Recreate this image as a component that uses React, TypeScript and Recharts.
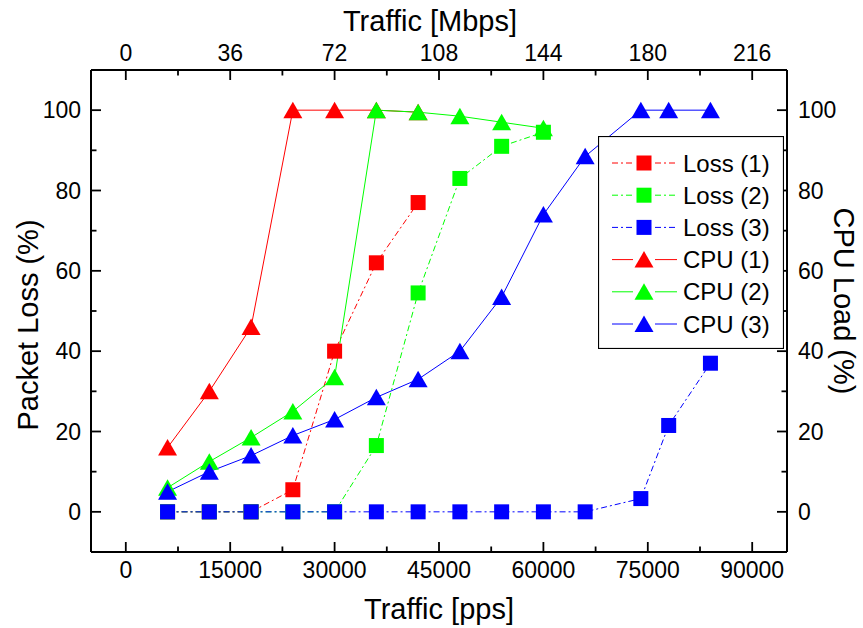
import React from 'react';
import { LineChart, Line, XAxis, YAxis, Legend } from 'recharts';

// traffic in packets per second; the top axis shows the same scale in Mbps
const trafficPps = [6000, 12000, 18000, 24000, 30000, 36000, 42000, 48000, 54000, 60000, 66000, 74000, 78000, 84000];

// packet loss (%) per run
const loss1 = [0, 0, 0, 5.5, 40, 62, 77];
const loss2 = [0, 0, 0, 0, 0, 16.5, 54.5, 83, 91, 94.5];
const loss3 = [0, 0, 0, 0, 0, 0, 0, 0, 0, 0, 0, 3.3, 21.5, 37];

// cpu load (%) per run
const cpu1 = [16, 30, 46, 100, 100, 100, 99.5];
const cpu2 = [6, 12.5, 18.5, 25, 33.5, 100, 99.5, 98.5, 97, 95.5];
const cpu3 = [5, 10, 14, 19, 23, 28.5, 33, 40, 53.5, 74, 88.5, 100, 100, 100];

const ppsTicks = [0, 7500, 15000, 22500, 30000, 37500, 45000, 52500, 60000, 67500, 75000, 82500, 90000];
const percentTicks = [0, 10, 20, 30, 40, 50, 60, 70, 80, 90, 100];

const MBPS_PER_PPS = 36 / 15000;
const FONT = '"Liberation Sans", Arial, Helvetica, sans-serif';
const TICK_FONT = 23;
const TITLE_FONT = 29;
const DASH_DOT = '6 3 2 3';

type Series = {
  name: string;
  values: number[];
  color: string;
  kind: 'loss' | 'cpu';
};

const series: Series[] = [
  { name: 'Loss (1)', values: loss1, color: '#ff0000', kind: 'loss' },
  { name: 'Loss (2)', values: loss2, color: '#00ff00', kind: 'loss' },
  { name: 'Loss (3)', values: loss3, color: '#0000ff', kind: 'loss' },
  { name: 'CPU (1)', values: cpu1, color: '#ff0000', kind: 'cpu' },
  { name: 'CPU (2)', values: cpu2, color: '#00ff00', kind: 'cpu' },
  { name: 'CPU (3)', values: cpu3, color: '#0000ff', kind: 'cpu' },
];

const toPoints = (values: number[]) => values.map((y, i) => ({ x: trafficPps[i], y }));

const Marker = ({ cx, cy, color, kind }: { cx: number; cy: number; color: string; kind: string }) =>
  kind === 'loss' ? (
    <rect x={cx - 7.5} y={cy - 7.5} width={15} height={15} fill={color} />
  ) : (
    <polygon points={`${cx},${cy - 8.5} ${cx + 9.5},${cy + 8} ${cx - 9.5},${cy + 8}`} fill={color} />
  );

const xTick = (side: 'top' | 'bottom') => (props: any) => {
  const { x, y, payload } = props;
  const v = payload.value as number;
  const major = v % 15000 === 0;
  const dir = side === 'bottom' ? -1 : 1;
  const label = side === 'bottom' ? String(v) : String(Math.round(v * MBPS_PER_PPS));
  return (
    <g>
      <line x1={x} x2={x} y1={y} y2={y + dir * (major ? 10 : 5.5)} stroke="#000" strokeWidth={1.8} />
      {major && (
        <text x={x} y={side === 'bottom' ? y + 26 : y - 9} textAnchor="middle" fontSize={TICK_FONT} fontFamily={FONT} fill="#000">
          {label}
        </text>
      )}
    </g>
  );
};

const yTick = (side: 'left' | 'right') => (props: any) => {
  const { x, y, payload } = props;
  const v = payload.value as number;
  const major = v % 20 === 0;
  const dir = side === 'left' ? 1 : -1;
  return (
    <g>
      <line x1={x} x2={x + dir * (major ? 10 : 5.5)} y1={y} y2={y} stroke="#000" strokeWidth={1.8} />
      {major && (
        <text
          x={side === 'left' ? x - 10 : x + 11}
          y={y + 8}
          textAnchor={side === 'left' ? 'end' : 'start'}
          fontSize={TICK_FONT}
          fontFamily={FONT}
          fill="#000"
        >
          {v}
        </text>
      )}
    </g>
  );
};

const titleText = (text: string, x: number, y: number, angle = 0) => (
  <text
    transform={`translate(${x},${y}) rotate(${angle})`}
    textAnchor="middle"
    fontSize={TITLE_FONT}
    fontFamily={FONT}
    fill="#000"
  >
    {text}
  </text>
);

const renderLegend = () => (
  <svg width={186} height={213} style={{ display: 'block', background: '#fff' }}>
    <rect x={0.5} y={0.5} width={185} height={212} fill="#fff" stroke="#000" strokeWidth={1.2} />
    {series.map((s, i) => {
      const cy = 27 + i * 32.2;
      const dash = s.kind === 'loss' ? DASH_DOT : undefined;
      return (
        <g key={s.name}>
          <line x1={14} x2={35} y1={cy} y2={cy} stroke={s.color} strokeWidth={1} strokeDasharray={dash} />
          <line x1={57} x2={79} y1={cy} y2={cy} stroke={s.color} strokeWidth={1} strokeDasharray={dash} />
          <Marker cx={46} cy={cy} color={s.color} kind={s.kind} />
          <text x={85} y={cy + 8.5} fontSize={24} fontFamily={FONT} fill="#000">
            {s.name}
          </text>
        </g>
      );
    })}
  </svg>
);

export default function App() {
  const axisLine = { stroke: '#000', strokeWidth: 2 };
  return (
    <div style={{ width: 863, height: 628, background: '#fff' }}>
      <style>{'body { margin: 0; background: #fff; }'}</style>
      <LineChart
        width={863}
        height={628}
        margin={{ top: 30, right: 16, bottom: 36, left: 31 }}
        style={{ fontFamily: FONT }}
      >
        <XAxis
          xAxisId="bottom"
          orientation="bottom"
          type="number"
          dataKey="x"
          domain={[-5000, 95000]}
          allowDataOverflow
          ticks={ppsTicks}
          interval={0}
          height={40}
          tickSize={0}
          tickMargin={0}
          tickLine={false}
          axisLine={axisLine}
          tick={xTick('bottom')}
          label={{ content: (p: any) => titleText('Traffic [pps]', p.viewBox.x + p.viewBox.width / 2, 619) }}
        />
        <XAxis
          xAxisId="top"
          orientation="top"
          type="number"
          dataKey="x"
          domain={[-5000, 95000]}
          allowDataOverflow
          ticks={ppsTicks}
          interval={0}
          height={40}
          tickSize={0}
          tickMargin={0}
          tickLine={false}
          axisLine={axisLine}
          tick={xTick('top')}
          label={{ content: (p: any) => titleText('Traffic [Mbps]', p.viewBox.x + p.viewBox.width / 2 - 9, 31) }}
        />
        <YAxis
          yAxisId="left"
          orientation="left"
          type="number"
          domain={[-10, 110]}
          allowDataOverflow
          ticks={percentTicks}
          interval={0}
          width={60}
          tickSize={0}
          tickMargin={0}
          tickLine={false}
          axisLine={axisLine}
          tick={yTick('left')}
          label={{ content: () => titleText('Packet Loss (%)', 38, 325, -90) }}
        />
        <YAxis
          yAxisId="right"
          orientation="right"
          type="number"
          domain={[-10, 110]}
          allowDataOverflow
          ticks={percentTicks}
          interval={0}
          width={60}
          tickSize={0}
          tickMargin={0}
          tickLine={false}
          axisLine={axisLine}
          tick={yTick('right')}
          label={{ content: () => titleText('CPU Load (%)', 834, 301, 90) }}
        />
        {series.map((s) => (
          <Line
            key={s.name}
            name={s.name}
            data={toPoints(s.values)}
            dataKey="y"
            xAxisId={s.kind === 'loss' ? 'bottom' : 'top'}
            yAxisId={s.kind === 'loss' ? 'left' : 'right'}
            type="linear"
            stroke={s.color}
            strokeWidth={1}
            strokeDasharray={s.kind === 'loss' ? DASH_DOT : undefined}
            dot={(p: any) => <Marker key={`${s.name}-${p.index}`} cx={p.cx} cy={p.cy} color={s.color} kind={s.kind} />}
            activeDot={false}
            isAnimationActive={false}
          />
        ))}
        <Legend
          layout="vertical"
          align="center"
          verticalAlign="middle"
          wrapperStyle={{ position: 'absolute', left: 598, top: 136, width: 186, height: 213 }}
          content={renderLegend}
        />
      </LineChart>
    </div>
  );
}
